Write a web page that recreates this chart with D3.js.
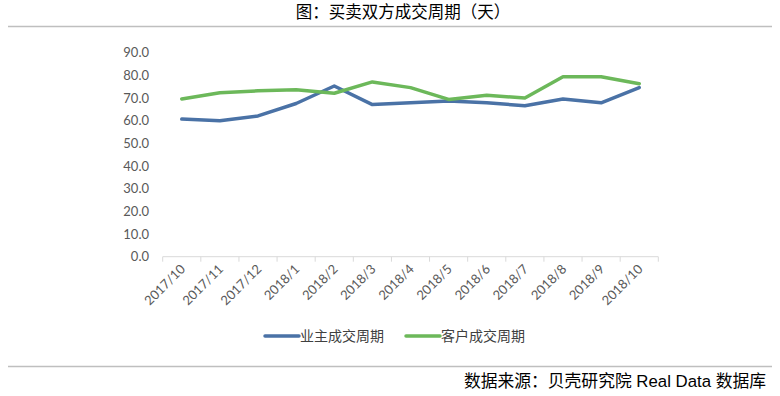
<!DOCTYPE html>
<html>
<head>
<meta charset="utf-8">
<script src="https://cdn.jsdelivr.net/npm/d3@7"></script>
<style>
  body { margin: 0; background: #fff; }
  svg { display: block; }
</style>
</head>
<body>
<svg id="chart"></svg>
<script>
// chart data
const months = ['2017/10','2017/11','2017/12','2018/1','2018/2','2018/3','2018/4','2018/5','2018/6','2018/7','2018/8','2018/9','2018/10'];
const ownerDays = [60.7, 60.0, 62.1, 67.6, 75.3, 67.1, 67.9, 68.7, 67.9, 66.6, 69.6, 67.9, 74.6];
const clientDays = [69.6, 72.3, 73.2, 73.7, 72.1, 77.1, 74.6, 69.4, 71.2, 70.0, 79.4, 79.4, 76.3];
const yTicks = [0, 10, 20, 30, 40, 50, 60, 70, 80, 90];
const seriesNames = ['业主成交周期', '客户成交周期'];
const colors = ['#4a72a6', '#6cb85a'];

const width = 780, height = 396;
const cjk = '"Noto Sans CJK SC", "Microsoft YaHei", sans-serif';
const latin = 'Lato, "Open Sans", sans-serif';

const svg = d3.select('#chart')
  .attr('width', width)
  .attr('height', height);

// title + separators
svg.append('text')
  .attr('x', 403)
  .attr('y', 18)
  .attr('text-anchor', 'middle')
  .style('font-family', cjk)
  .style('font-size', '16.5px')
  .attr('fill', '#000')
  .text('图：买卖双方成交周期（天）');

svg.append('line')
  .attr('x1', 8).attr('x2', 772)
  .attr('y1', 26.5).attr('y2', 26.5)
  .attr('stroke', '#bfbfbf').attr('stroke-width', 1.5);

svg.append('line')
  .attr('x1', 8).attr('x2', 772)
  .attr('y1', 366.5).attr('y2', 366.5)
  .attr('stroke', '#bfbfbf').attr('stroke-width', 1.5);

svg.append('text')
  .attr('x', 766)
  .attr('y', 387)
  .attr('text-anchor', 'end')
  .style('font-family', '"Liberation Sans", ' + cjk)
  .style('font-size', '16.8px')
  .attr('fill', '#000')
  .text('数据来源：贝壳研究院 Real Data 数据库');

// scales
const x = d3.scaleBand()
  .domain(months)
  .range([162.7, 658.3]);

const y = d3.scaleLinear()
  .domain([0, 90])
  .range([256.7, 52.7]);

// y axis labels only (no axis line)
svg.append('g')
  .selectAll('text')
  .data(yTicks)
  .join('text')
  .attr('x', 149)
  .attr('y', d => y(d))
  .attr('dy', '0.35em')
  .attr('text-anchor', 'end')
  .style('font-family', latin)
  .style('font-size', '13px')
  .attr('fill', '#595959')
  .text(d => d.toFixed(1));

// x axis
const xAxis = svg.append('g')
  .attr('transform', `translate(0,${y(0)})`);

xAxis.append('line')
  .attr('x1', x.range()[0]).attr('x2', x.range()[1])
  .attr('stroke', '#d9d9d9').attr('stroke-width', 1);

xAxis.selectAll('line.tick')
  .data(months.concat(['end']))
  .join('line')
  .attr('class', 'tick')
  .attr('x1', (d, i) => x.range()[0] + i * x.step())
  .attr('x2', (d, i) => x.range()[0] + i * x.step())
  .attr('y1', 0).attr('y2', 5)
  .attr('stroke', '#d9d9d9');

xAxis.selectAll('text')
  .data(months)
  .join('text')
  .attr('transform', d => `translate(${x(d) + x.bandwidth() / 2 + 1},10) rotate(-45)`)
  .attr('text-anchor', 'end')
  .attr('dy', '0.35em')
  .style('font-family', latin)
  .style('font-size', '13px')
  .attr('fill', '#595959')
  .text(d => d);

// lines
const line = d3.line()
  .x((d, i) => x(months[i]) + x.bandwidth() / 2)
  .y(d => y(d));

[ownerDays, clientDays].forEach((vals, k) => {
  svg.append('path')
    .datum(vals)
    .attr('d', line)
    .attr('fill', 'none')
    .attr('stroke', colors[k])
    .attr('stroke-width', 3.5)
    .attr('stroke-linejoin', 'round')
    .attr('stroke-linecap', 'round');
});

// legend
const legendX = [265, 406];
const legend = svg.append('g');
seriesNames.forEach((name, k) => {
  legend.append('line')
    .attr('x1', legendX[k]).attr('x2', legendX[k] + 34)
    .attr('y1', 336).attr('y2', 336)
    .attr('stroke', colors[k])
    .attr('stroke-width', 3.5)
    .attr('stroke-linecap', 'round');
  legend.append('text')
    .attr('x', legendX[k] + 35)
    .attr('y', 336)
    .attr('dy', '0.35em')
    .style('font-family', cjk)
    .style('font-size', '14px')
    .attr('fill', '#404040')
    .text(name);
});
</script>
</body>
</html>
